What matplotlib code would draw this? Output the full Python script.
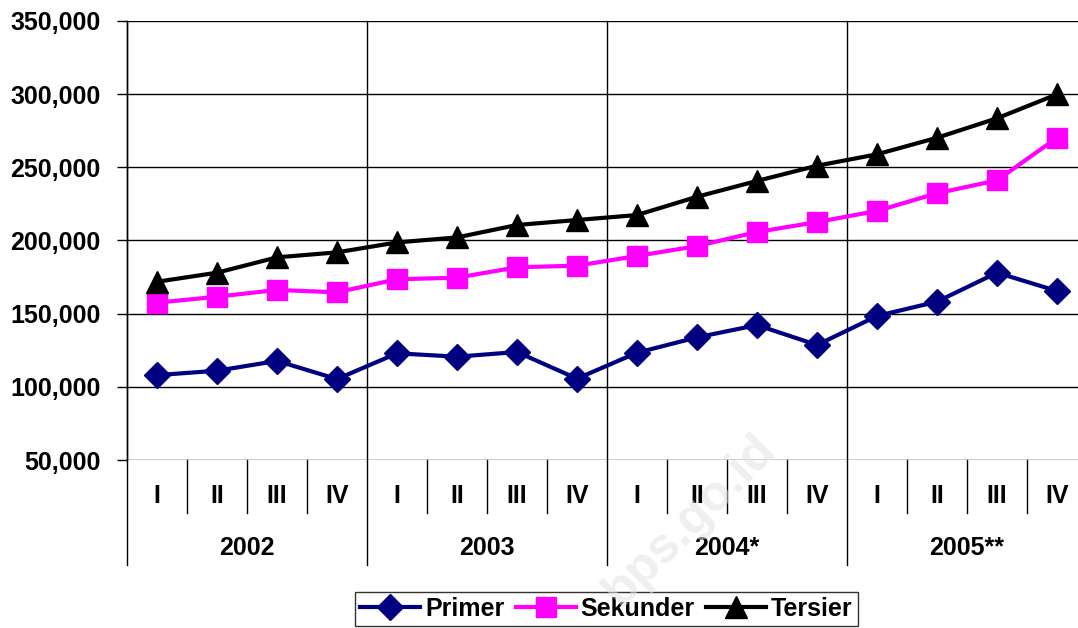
import numpy as np
import matplotlib
matplotlib.use("Agg")
import matplotlib.pyplot as plt
from matplotlib.ticker import FuncFormatter

plt.rcParams['font.family'] = ['Liberation Sans', 'DejaVu Sans']
plt.rcParams['font.weight'] = 'bold'

# data
years = ["2002", "2003", "2004*", "2005**"]
quarters = ["I", "II", "III", "IV"]
primer = [108000, 111000, 117700, 105300,
          122900, 120600, 123800, 105600,
          123300, 133800, 142200, 128600,
          148400, 158200, 178000, 165500]
sekunder = [157500, 161600, 166200, 164600,
            173500, 174600, 181700, 182800,
            189400, 196200, 205800, 212600,
            220200, 232300, 241100, 270200]
tersier = [171800, 178000, 188500, 191900,
           198700, 202100, 210600, 214000,
           217400, 229900, 240700, 251100,
           258900, 270200, 283500, 299900]
y_ticks = [50000, 100000, 150000, 200000, 250000, 300000, 350000]

n = len(primer)
x = np.arange(n)
fs = 18

fig = plt.figure(figsize=(10.78, 6.28), dpi=100)
# plot area runs slightly past the right edge, like the original
ax = fig.add_axes([127 / 1078, 168 / 628, 960 / 1078, 439 / 628])

ax.set_xlim(-0.5, n - 0.5)
ax.set_ylim(y_ticks[0], y_ticks[-1])
ax.set_yticks(y_ticks)
ax.yaxis.set_major_formatter(FuncFormatter(lambda v, p: f"{int(v):,}"))
ax.tick_params(axis='y', length=7, width=1, pad=12, labelsize=fs)
ax.set_xticks([])

for v in y_ticks:
    ax.axhline(v, color='black', lw=1, zorder=1)
for s in ax.spines.values():
    s.set_visible(False)
ax.spines['left'].set_visible(True)
ax.spines['left'].set_linewidth(1)

tr = ax.get_xaxis_transform()
# quarter separators / labels below the axis
for i in range(n):
    ax.text(x[i], -0.082, quarters[i % 4], transform=tr, ha='center', va='center',
            fontsize=fs, fontweight='bold')
    if i % 4 != 0:
        ax.plot([i - 0.5, i - 0.5], [0, -0.121], transform=tr, color='black',
                lw=1, clip_on=False)
# year boundaries run through the plot and down through the labels
for k in range(len(years)):
    ax.text(4 * k + 1.5, -0.2, years[k], transform=tr, ha='center', va='center',
            fontsize=fs, fontweight='bold')
    ax.plot([4 * k - 0.5, 4 * k - 0.5], [1, -0.239], transform=tr, color='black',
            lw=1, clip_on=False, zorder=1)

ax.plot(x, primer, color='#000080', lw=3, marker='D', ms=13.5, label='Primer', zorder=3)
ax.plot(x, sekunder, color='#FF00FF', lw=3, marker='s', ms=14.5, label='Sekunder', zorder=3)
ax.plot(x, tersier, color='black', lw=3, marker='^', ms=15.5, label='Tersier', zorder=3)

leg = fig.legend(loc='upper left', bbox_to_anchor=(355 / 1078, 1 - 592 / 628),
                 ncol=3, fontsize=fs, frameon=True, fancybox=False,
                 edgecolor='black', borderaxespad=0, borderpad=0.2,
                 handlelength=2.4, handletextpad=0.2, columnspacing=0.45)
leg.get_frame().set_linewidth(1)
for t in leg.get_texts():
    t.set_fontweight('bold')

# faint watermark
fig.text(690 / 1078, 1 - 520 / 628, "bps.go.id", rotation=45, ha='center', va='center',
         fontsize=36, fontweight='bold', color='#e2e2e2', alpha=0.55, zorder=10)

fig.savefig("out.png", dpi=100)
